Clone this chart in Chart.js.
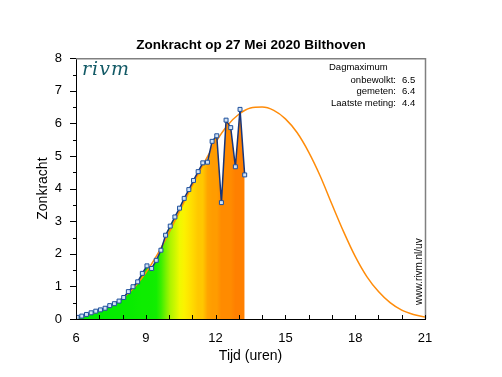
<!DOCTYPE html>
<html>
<head>
<meta charset="utf-8">
<script src="https://cdn.jsdelivr.net/npm/chart.js@4.4.0/dist/chart.umd.min.js"></script>
<style>
  html, body { margin: 0; background: #fff; }
  canvas { display: block; }
</style>
</head>
<body>
<canvas id="uv-chart" width="502" height="377"></canvas>
<script>
// metingen (tijd in uren, zonkracht)
var meetTijden = [6.05, 6.25, 6.45, 6.65, 6.85, 7.05, 7.25, 7.45, 7.65, 7.85, 8.05, 8.25, 8.45, 8.65, 8.85,
  9.05, 9.25, 9.45, 9.65, 9.85, 10.05, 10.25, 10.45, 10.65, 10.85, 11.05, 11.25, 11.45, 11.65, 11.85,
  12.05, 12.25, 12.45, 12.65, 12.85, 13.05, 13.25];
var gemeten = [0.05, 0.09, 0.14, 0.19, 0.24, 0.28, 0.33, 0.41, 0.47, 0.55, 0.66, 0.84, 0.99, 1.14, 1.4,
  1.63, 1.55, 1.8, 2.11, 2.57, 2.85, 3.13, 3.4, 3.7, 3.97, 4.25, 4.52, 4.79, 4.81, 5.45,
  5.62, 3.57, 6.1, 5.87, 4.67, 6.43, 4.42];

// onbewolkte (verwachte) zonkracht
var curveTijden = [6, 6.5, 7, 7.5, 8, 8.5, 9, 9.5, 10, 10.5, 11, 11.5, 12, 12.5, 13, 13.5,
  14, 14.5, 15, 15.5, 16, 16.5, 17, 17.5, 18, 18.5, 19, 19.5, 20, 20.5, 21];
var onbewolkt = [0.04, 0.12, 0.25, 0.42, 0.64, 0.97, 1.42, 1.98, 2.65, 3.38, 4.1, 4.78, 5.42, 5.93, 6.28, 6.47,
  6.5, 6.4, 6.14, 5.72, 5.12, 4.38, 3.52, 2.68, 1.92, 1.3, 0.84, 0.5, 0.27, 0.14, 0.06];

var xTicks = [6, 9, 12, 15, 18, 21];
var yTicks = [0, 1, 2, 3, 4, 5, 6, 7, 8];

var titel = 'Zonkracht op 27 Mei 2020 Bilthoven';
var infoLabels = ['onbewolkt:', 'gemeten:', 'Laatste meting:'];
var infoWaarden = ['6.5', '6.4', '4.4'];

// kleur van de vulling naar zonkracht
var kleurStops = [[0, [0, 235, 0]], [2.4, [20, 238, 0]], [3.1, [170, 244, 0]], [3.8, [250, 250, 0]],
  [4.4, [255, 222, 0]], [5.0, [255, 188, 0]], [5.7, [255, 152, 0]], [6.5, [255, 126, 0]]];

function uvKleur(v) {
  for (var i = 1; i < kleurStops.length; i++) {
    if (v <= kleurStops[i][0]) {
      var a = kleurStops[i - 1], b = kleurStops[i];
      var t = (v - a[0]) / (b[0] - a[0]);
      var c = a[1].map(function (n, j) { return Math.round(n + (b[1][j] - n) * t); });
      return 'rgb(' + c.join(',') + ')';
    }
  }
  var l = kleurStops[kleurStops.length - 1][1];
  return 'rgb(' + l.join(',') + ')';
}

// horizontaal kleurverloop onder de metingen, via de x-schaal
function vulling(c) {
  var chart = c.chart, x = chart.scales.x;
  if (!chart.chartArea || !x) return '#00eb00';
  var n = meetTijden.length;
  var x0 = x.getPixelForValue(meetTijden[0]), x1 = x.getPixelForValue(meetTijden[n - 1]);
  var g = chart.ctx.createLinearGradient(x0, 0, x1, 0);
  for (var i = 0; i < n; i++) {
    var v = Math.max(gemeten[i], gemeten[Math.max(i - 1, 0)], gemeten[Math.min(i + 1, n - 1)]);
    g.addColorStop((x.getPixelForValue(meetTijden[i]) - x0) / (x1 - x0), uvKleur(v));
  }
  return g;
}

var extras = {
  id: 'extras',
  afterDatasetsDraw: function (chart) {
    var ctx = chart.ctx, a = chart.chartArea, x = chart.scales.x, y = chart.scales.y;
    ctx.save();
    // rand boven en rechts
    ctx.strokeStyle = '#808080';
    ctx.lineWidth = 1.5;
    ctx.beginPath();
    ctx.moveTo(a.left, a.top + 0.5);
    ctx.lineTo(a.right + 0.5, a.top + 0.5);
    ctx.lineTo(a.right + 0.5, a.bottom);
    ctx.stroke();
    // streepjes
    ctx.strokeStyle = '#000';
    ctx.lineWidth = 1;
    ctx.beginPath();
    for (var h = 6; h <= 21; h++) {
      var px = Math.round(x.getPixelForValue(h)) + 0.5;
      ctx.moveTo(px, a.bottom);
      ctx.lineTo(px, a.bottom - 4);
    }
    for (var v = 0; v <= 8; v += 0.5) {
      var py = Math.round(y.getPixelForValue(v)) + 0.5;
      var len = v % 1 === 0 ? 6 : 3;
      ctx.moveTo(a.left - len, py);
      ctx.lineTo(a.left, py);
    }
    ctx.stroke();

    // rivm logo
    ctx.fillStyle = '#135a66';
    ctx.font = 'italic 19px "DejaVu Serif"';
    ctx.letterSpacing = '1px';
    ctx.textBaseline = 'alphabetic';
    ctx.textAlign = 'left';
    ctx.fillText('rivm', 82, 75);
    ctx.letterSpacing = '0px';

    // dagmaximum
    ctx.fillStyle = '#000';
    ctx.font = '9.5px "Liberation Sans"';
    ctx.textBaseline = 'middle';
    ctx.fillText('Dagmaximum', 329, 67.5);
    for (var i = 0; i < infoLabels.length; i++) {
      ctx.textAlign = 'right';
      ctx.fillText(infoLabels[i], 396, 80 + i * 11.5);
      ctx.textAlign = 'left';
      ctx.fillText(infoWaarden[i], 402, 80 + i * 11.5);
    }

    // url
    ctx.translate(419.5, 305);
    ctx.rotate(-Math.PI / 2);
    ctx.font = '10px "Liberation Sans"';
    ctx.textAlign = 'left';
    ctx.fillText('www.rivm.nl/uv', 0, 0);
    ctx.restore();
  }
};

Chart.defaults.font.family = '"Liberation Sans", Arial, sans-serif';
Chart.defaults.color = '#000';

var chart = new Chart(document.getElementById('uv-chart'), {
  type: 'line',
  data: {
    datasets: [{
      label: 'gemeten',
      data: meetTijden.map(function (t, i) { return {x: t, y: gemeten[i]}; }),
      borderColor: '#17357a',
      borderWidth: 1.5,
      pointStyle: 'rect',
      pointRadius: 2.8,
      pointBorderWidth: 1,
      pointBorderColor: '#1d4f9c',
      pointBackgroundColor: '#d2e3f5',
      fill: 'origin',
      backgroundColor: vulling,
      tension: 0,
      order: 0
    }, {
      label: 'onbewolkt',
      data: curveTijden.map(function (t, i) { return {x: t, y: onbewolkt[i]}; }),
      borderColor: '#ff8c0a',
      borderWidth: 1.5,
      pointRadius: 0,
      fill: false,
      cubicInterpolationMode: 'monotone',
      order: 1
    }]
  },
  options: {
    responsive: false,
    animation: false,
    layout: { padding: 0 },
    plugins: {
      legend: { display: false },
      tooltip: { enabled: false },
      filler: { drawTime: 'beforeDatasetsDraw' },
      title: {
        display: true,
        text: titel,
        font: { size: 13.5, weight: 'bold' },
        color: '#000',
        padding: { top: 37, bottom: 5 }
      }
    },
    scales: {
      x: {
        type: 'linear',
        min: 6,
        max: 21,
        afterFit: function (s) { s.height = 58; },
        afterBuildTicks: function (s) { s.ticks = xTicks.map(function (v) { return {value: v}; }); },
        ticks: { font: { size: 13 }, padding: 12, color: '#000' },
        grid: { display: false, drawTicks: false, tickLength: 0 },
        border: { display: true, color: '#000', width: 1 },
        title: { display: true, text: 'Tijd (uren)', font: { size: 14 }, padding: { top: 0, bottom: 12 } }
      },
      y: {
        min: 0,
        max: 8,
        afterFit: function (s) { s.width = 76; },
        afterBuildTicks: function (s) { s.ticks = yTicks.map(function (v) { return {value: v}; }); },
        ticks: { font: { size: 13 }, padding: 14, color: '#000' },
        grid: { display: false, drawTicks: false, tickLength: 0 },
        border: { display: true, color: '#000', width: 1 },
        title: { display: true, text: 'Zonkracht', font: { size: 14 }, padding: { top: 35, bottom: 0 } }
      },
      rechts: {
        type: 'linear',
        position: 'right',
        display: true,
        afterFit: function (s) { s.width = 77; },
        ticks: { display: false },
        grid: { display: false, drawTicks: false },
        border: { display: false }
      }
    }
  },
  plugins: [extras]
});
</script>
</body>
</html>
